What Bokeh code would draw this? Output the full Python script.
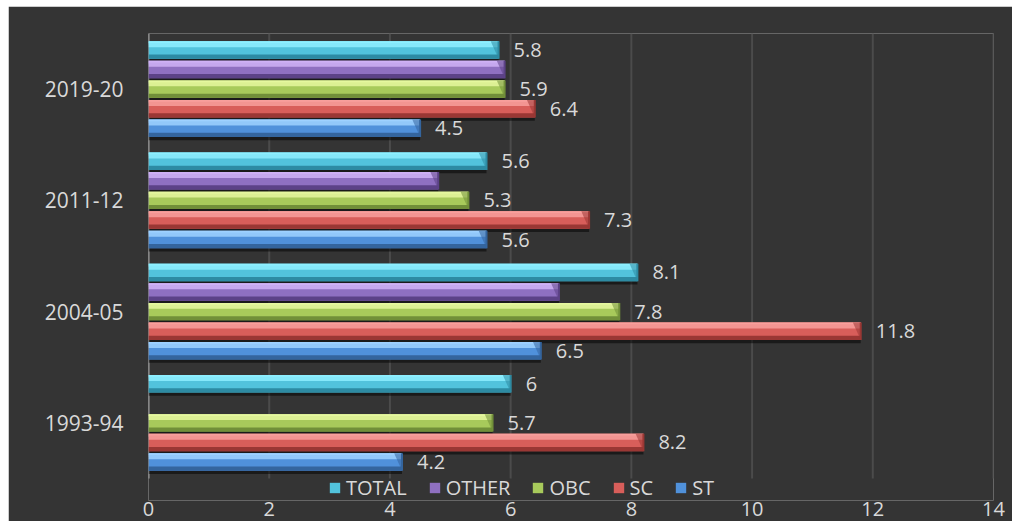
import numpy as np
from bokeh.plotting import figure
from bokeh.models import FixedTicker, Legend, LegendItem, Range1d
from bokeh.core.properties import value
from bokeh.embed import file_html
from bokeh.resources import INLINE

years = ["1993-94", "2004-05", "2011-12", "2019-20"]
series = ["TOTAL", "OTHER", "OBC", "SC", "ST"]
total = [6.0, 8.1, 5.6, 5.8]
other = [np.nan, 6.8, 4.8, 5.9]
obc = [5.7, 7.8, 5.3, 5.9]
sc = [8.2, 11.8, 7.3, 6.4]
st = [4.2, 6.5, 5.6, 4.5]
x_ticks = [0, 2, 4, 6, 8, 10, 12, 14]
labelled = ["TOTAL", "OBC", "SC", "ST"]

values = {"TOTAL": total, "OTHER": other, "OBC": obc, "SC": sc, "ST": st}
# (main, highlight, shade)
palette = {
    "TOTAL": ("#52c3dc", "#8eefff", "#2d8ba3"),
    "OTHER": ("#8f70c1", "#cfb2f6", "#5c4287"),
    "OBC": ("#a8ca5b", "#e5f79f", "#718f39"),
    "SC": ("#d85e5a", "#f89f9c", "#9a3734"),
    "ST": ("#5091db", "#9ed1ff", "#34659e"),
}

FONT = "Open Sans"
TXT = "#d9d9d9"
BG = "#343434"

n = len(years)
slot = 0.176
bar_h = 0.157
offsets = {s: (2 - i) * slot for i, s in enumerate(series)}
cat_pos = np.arange(n) + 0.5
px_per_unit = 445 / n
bottom_pad = 22 / px_per_unit

p = figure(width=1004, height=515, output_backend="svg", toolbar_location=None,
           x_range=Range1d(0, 14), y_range=Range1d(-bottom_pad, n),
           min_border_left=140, min_border_right=19, min_border_top=27,
           min_border_bottom=21)
p.margin = (6, 0, 0, 8)
p.background_fill_color = BG
p.border_fill_color = BG
p.outline_line_color = None

p.xaxis.ticker = FixedTicker(ticks=x_ticks)
p.xaxis.axis_line_color = None
p.xaxis.major_tick_line_color = None
p.xaxis.minor_tick_line_color = None
p.xaxis.major_label_text_font = FONT
p.xaxis.major_label_text_font_size = "20px"
p.xaxis.major_label_text_color = TXT
p.xaxis.major_label_standoff = -5

p.yaxis.ticker = FixedTicker(ticks=list(cat_pos))
p.yaxis.major_label_overrides = {float(c): y for c, y in zip(cat_pos, years)}
p.yaxis.axis_line_color = None
p.yaxis.major_tick_line_color = None
p.yaxis.minor_tick_line_color = None
p.yaxis.major_label_text_font = FONT
p.yaxis.major_label_text_font_size = "21px"
p.yaxis.major_label_text_color = TXT
p.yaxis.major_label_standoff = 19

p.xgrid.grid_line_color = None
p.ygrid.grid_line_color = None

# grid lines limited to the category area
grid_x = [t for t in x_ticks if t > 0]
p.segment(x0=grid_x, x1=grid_x, y0=[0] * len(grid_x), y1=[n] * len(grid_x),
          line_color="#4b4b4b", line_width=2)
# category axis line
p.segment(x0=[0], x1=[0], y0=[0], y1=[n], line_color="#a3a3a3", line_width=2)

bevel = 0.13
items = []
for s in series:
    v = np.array(values[s], dtype=float)
    y = cat_pos + offsets[s]
    ok = ~np.isnan(v)
    vv, yy = v[ok], y[ok]
    main, hi, lo = palette[s]
    # shadow
    p.hbar(y=yy - 0.03, right=vv, left=0, height=bar_h, fill_color="black",
           fill_alpha=0.5, line_color=None)
    r = p.hbar(y=yy, right=vv, left=0, height=bar_h, fill_color=main,
               line_color=None)
    # highlight top band
    p.hbar(y=yy + bar_h * 0.5 - bar_h * 0.17, right=vv, left=0,
           height=bar_h * 0.34, fill_color=hi, line_color=None, fill_alpha=0.85)
    p.hbar(y=yy + bar_h * 0.5 - bar_h * 0.05, right=vv, left=0,
           height=bar_h * 0.1, fill_color=hi, line_color=None)
    # dark bottom band
    p.hbar(y=yy - bar_h * 0.5 + bar_h * 0.12, right=vv, left=0,
           height=bar_h * 0.24, fill_color=lo, line_color=None)
    # right-end bevel
    xs = [[x - bevel, x, x] for x in vv]
    ys = [[yc + bar_h / 2, yc + bar_h / 2, yc - bar_h / 2] for yc in yy]
    p.patches(xs, ys, fill_color=lo, fill_alpha=0.55, line_color=None)
    p.segment(x0=vv, x1=vv, y0=yy - bar_h / 2, y1=yy + bar_h / 2,
              line_color=lo, line_width=2)
    if s in labelled:
        p.text(x=vv, y=yy, text=[f"{x:g}" for x in vv], x_offset=15,
               text_baseline="middle", text_align="left",
               text_font=value(FONT), text_font_size="20px", text_color=TXT)
    items.append(LegendItem(label=s, renderers=[r]))

legend = Legend(items=items, orientation="horizontal", location=(180, -1),
                glyph_width=13, glyph_height=13, label_standoff=5, spacing=21,
                padding=0, margin=0, background_fill_alpha=0,
                border_line_alpha=0, label_text_font=FONT,
                label_text_font_size="20px", label_text_color=TXT)
p.add_layout(legend, "center")

open("out.html", "w").write(file_html(p, INLINE))
